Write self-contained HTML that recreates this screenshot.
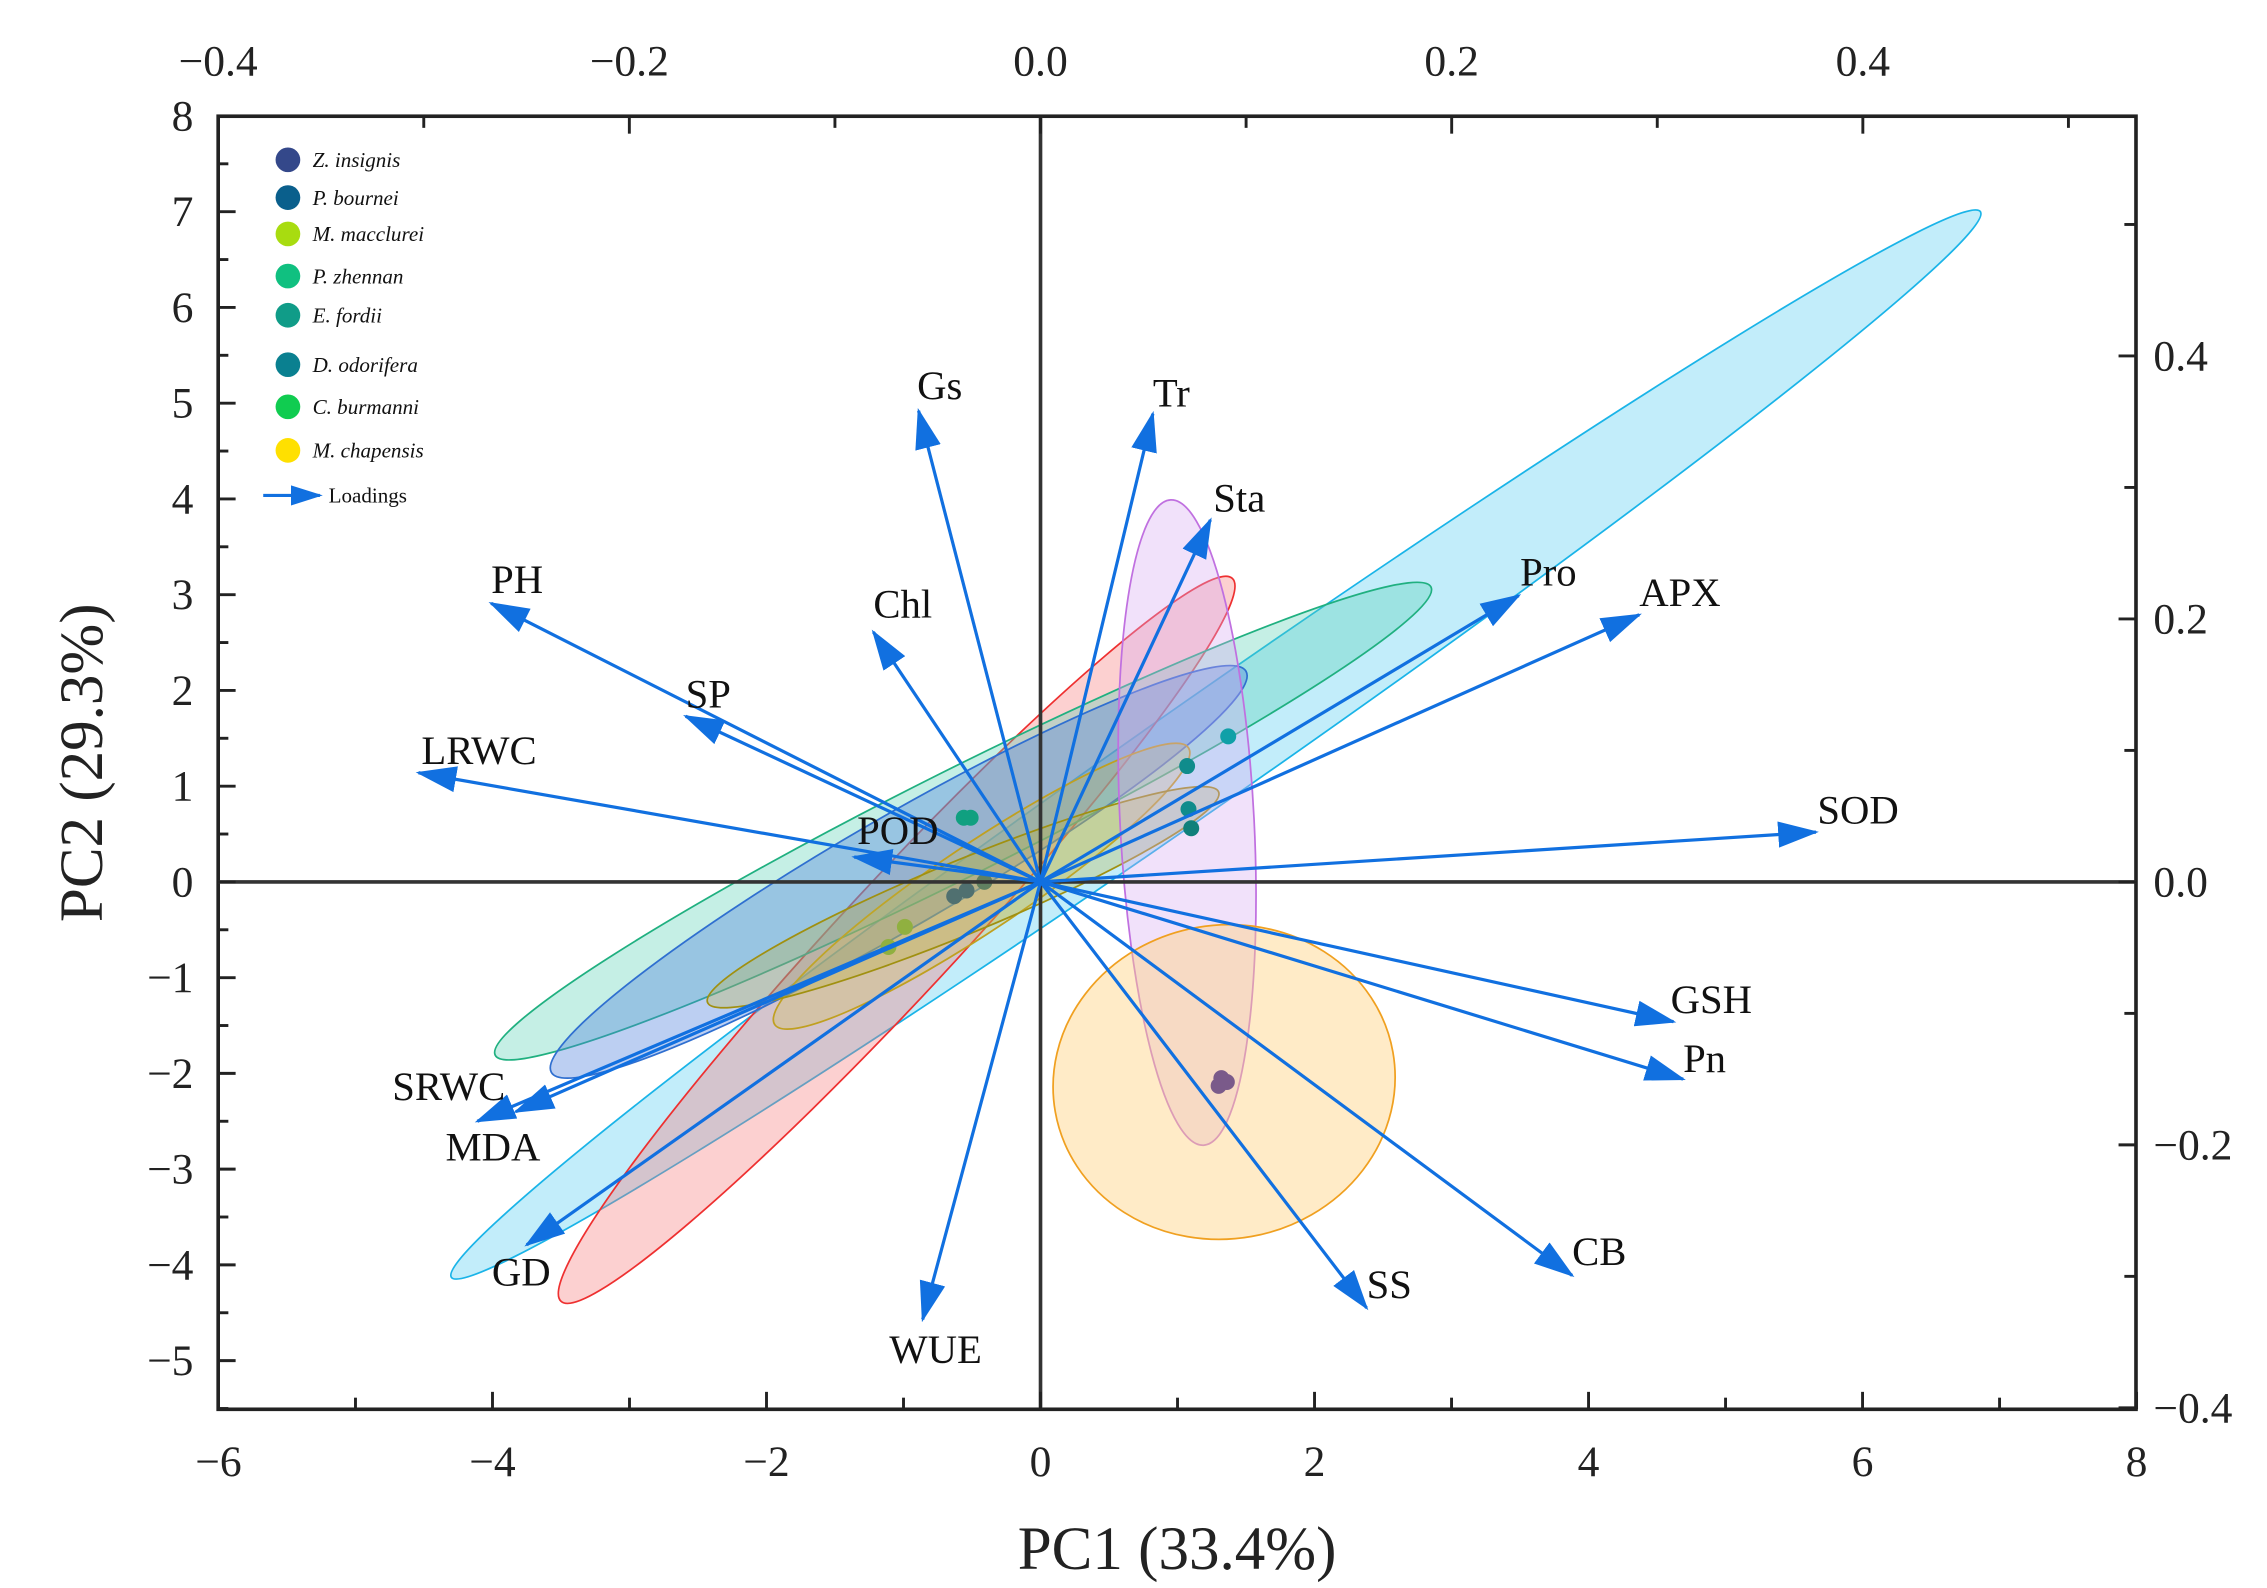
<!DOCTYPE html>
<html><head><meta charset="utf-8"><style>
html,body{margin:0;padding:0;background:#fff;}
svg{display:block;font-family:"Liberation Serif",serif;}
</style></head><body>
<svg id="chart" xmlns="http://www.w3.org/2000/svg" width="2267" height="1588" viewBox="0 0 1560 1093">
<defs>
<marker id="ah" markerWidth="28" markerHeight="20" refX="26" refY="10" orient="auto" markerUnits="userSpaceOnUse"><path d="M0,1 L28,10 L0,19 z" fill="#1170e0"/></marker>
<marker id="ahs" markerWidth="22" markerHeight="16" refX="20" refY="8" orient="auto" markerUnits="userSpaceOnUse"><path d="M0,1 L22,8 L0,15 z" fill="#1170e0"/></marker>
</defs>
<g id="ell"></g>
<g id="pts"></g>
<g id="axes"></g>
<g id="arrows"></g>
<g id="legend"></g>
</svg>
<script>
// ---- data ----
const loadNames = ["Gs","Tr","Sta","Pro","APX","SOD","GSH","Pn","CB","SS","WUE","GD","MDA","SRWC","LRWC","PH","SP","Chl","POD"];
const loadX = [-0.89,0.82,1.24,3.49,4.37,5.66,4.62,4.69,3.88,2.38,-0.86,-3.75,-4.11,-3.83,-4.54,-4.01,-2.59,-1.22,-1.36];
const loadY = [4.92,4.89,3.78,2.99,2.79,0.52,-1.46,-2.06,-4.11,-4.45,-4.57,-3.79,-2.50,-2.40,1.14,2.91,1.73,2.61,0.26];
const labelDX = [-1,0,2,1,0,1,-2,0,0,0,-23,-24,-22,-85,2,0,0,0,2];
const labelDY = [-8,-5,-6,-7,-6,-6,-6,-5,-7,-7,30,28,27,-8,-6,-7,-6,-10,-9];
const ellX1 = [-4.3,-3.5,-3.98,-3.57,-1.94,-2.43,0.95];
const ellY1 = [-4.13,-4.38,-1.81,-1.99,-1.49,-1.26,3.99];
const ellX2 = [6.86,1.40,2.85,1.50,1.08,1.30,1.19];
const ellY2 = [7.0,3.17,3.08,2.2,1.4,0.94,-2.75];
const ellW = [0.55,0.6,0.55,0.58,0.45,0.38,0.7];
const ellFill = ["rgba(120,215,245,0.45)","rgba(245,120,120,0.35)","rgba(90,210,180,0.35)","rgba(80,130,220,0.38)","rgba(210,190,80,0.3)","rgba(190,180,60,0.3)","rgba(215,170,240,0.35)"];
const ellStroke = ["#1ab4e8","#ee3030","#20b080","#2f6fd0","#c0a020","#a09010","#c070e0"];
const ptX = [1.32,1.36,1.30,1.37,1.07,1.08,1.10,-0.51,-0.56,-0.63,-0.54,-0.41,-0.99,-1.11];
const ptY = [-2.05,-2.09,-2.13,1.52,1.21,0.76,0.56,0.67,0.67,-0.15,-0.09,0.0,-0.47,-0.68];
const ptCol = ["#7a5a8a","#7a5a8a","#7a5a8a","#10a0a8","#108c8c","#108c8c","#10807a","#10a080","#10a080","#507070","#507070","#608060","#90b040","#90b040"];
const legNames = ["Z. insignis","P. bournei","M. macclurei","P. zhennan","E. fordii","D. odorifera","C. burmanni","M. chapensis"];
const legCols = ["#34488a","#0a5f8c","#a8dc10","#10c080","#109c88","#0a8090","#10cc50","#ffe000"];
const xTicks = [-6,-4,-2,0,2,4,6,8];
const yTicks = [-5,-4,-3,-2,-1,0,1,2,3,4,5,6,7,8];
const topTicks = [-0.4,-0.2,0.0,0.2,0.4];
const rightTicks = [-0.4,-0.2,0.0,0.2,0.4];
// ---- scales ----
const L=150,R=1470,T=80,B=970;
const sx=v=>716+v*94.3;
const sy=v=>607-v*65.9;
const tx=v=>716+v*(1282-716)/0.4;
const ty=v=>607-v*(607-245)/0.4;
const NS="http://www.w3.org/2000/svg";
function mk(tag,parent,attrs){const e=document.createElementNS(NS,tag);for(const k in attrs)e.setAttribute(k,attrs[k]);document.getElementById(parent).appendChild(e);return e;}
function fmt(v){const s=Math.abs(v).toFixed(1);return (v<0?"\u2212":"")+s;}
for(let i=0;i<ellX1.length;i++){
  const x1=sx(ellX1[i]),y1=sy(ellY1[i]),x2=sx(ellX2[i]),y2=sy(ellY2[i]);
  const cx=(x1+x2)/2,cy=(y1+y2)/2,rx=Math.hypot(x2-x1,y2-y1)/2,ang=Math.atan2(y2-y1,x2-x1)*180/Math.PI;
  const e=mk("ellipse","ell",{cx:cx,cy:cy,rx:rx,ry:ellW[i]*65.9,transform:`rotate(${ang} ${cx} ${cy})`,fill:ellFill[i],stroke:ellStroke[i],"stroke-width":1.2});
  
  
}
{const cx=sx(1.34),cy=sy(-2.09);
const e=mk("ellipse","ell",{cx:cx,cy:cy,rx:118,ry:108,transform:`rotate(-10 ${cx} ${cy})`,fill:"rgba(255,210,130,0.45)",stroke:"#f0a020","stroke-width":1.2});

}
for(let i=0;i<ptX.length;i++){
  const c=mk("circle","pts",{cx:sx(ptX[i]),cy:sy(ptY[i]),r:5.5,fill:ptCol[i]});
  
  
}
const ax="axes";
mk("rect",ax,{x:L,y:T,width:R-L,height:B-T,fill:"none",stroke:"#222","stroke-width":2.5});
mk("line",ax,{x1:L,y1:sy(0),x2:R,y2:sy(0),stroke:"#333","stroke-width":2.5});
mk("line",ax,{x1:sx(0),y1:T,x2:sx(0),y2:B,stroke:"#333","stroke-width":2.5});
for(let v=-6;v<=8;v++){const x=sx(v);const len=v%2===0?12:8;
  mk("line",ax,{x1:x,y1:B,x2:x,y2:B-len,stroke:"#222","stroke-width":2});}
for(let v=-5.5;v<=8;v+=0.5){const y=sy(v);const len=Number.isInteger(v)?12:7;
  mk("line",ax,{x1:L,y1:y,x2:L+len,y2:y,stroke:"#222","stroke-width":2});}
for(let v=-0.4;v<=0.52;v+=0.1){const x=tx(v);const len=Math.abs(Math.round(v*10))%2===0?12:8;
  mk("line",ax,{x1:x,y1:T,x2:x,y2:T+len,stroke:"#222","stroke-width":2});}
for(let v=-0.4;v<=0.55;v+=0.1){const y=ty(v);const len=Math.abs(Math.round(v*10))%2===0?12:8;
  mk("line",ax,{x1:R,y1:y,x2:R-len,y2:y,stroke:"#222","stroke-width":2});}
xTicks.forEach(v=>{const t=mk("text",ax,{x:sx(v),y:1016,"font-size":30,"text-anchor":"middle",fill:"#222"});t.textContent=v<0?"\u2212"+(-v):v;
  });
yTicks.forEach(v=>{const t=mk("text",ax,{x:133,y:sy(v)+10,"font-size":30,"text-anchor":"end",fill:"#222"});t.textContent=v<0?"\u2212"+(-v):v;
  });
topTicks.forEach(v=>{const t=mk("text",ax,{x:tx(v),y:52,"font-size":30,"text-anchor":"middle",fill:"#222"});t.textContent=fmt(v);
  });
rightTicks.forEach(v=>{const t=mk("text",ax,{x:1482,y:ty(v)+10,"font-size":30,"text-anchor":"start",fill:"#222"});t.textContent=fmt(v);
  });
{const t=mk("text",ax,{x:810,y:1080,"font-size":42,"text-anchor":"middle",fill:"#222"});t.textContent="PC1 (33.4%)";
}
{const t=mk("text",ax,{x:70,y:525,"font-size":42,"text-anchor":"middle",fill:"#222",transform:"rotate(-90 70 525)"});t.textContent="PC2 (29.3%)";
}
for(let i=0;i<loadNames.length;i++){
  const l=mk("line","arrows",{x1:sx(0),y1:sy(0),x2:sx(loadX[i]),y2:sy(loadY[i]),stroke:"#1170e0","stroke-width":2.2,"marker-end":"url(#ah)"});
  
  
  const t=mk("text","arrows",{x:sx(loadX[i])+labelDX[i],y:sy(loadY[i])+labelDY[i],"font-size":28,"text-anchor":"start",fill:"#111"});
  t.textContent=loadNames[i];
  
  
}
const legY=[110,136,161,190,217,251,280,310];
legNames.forEach((n,i)=>{
  const c=mk("circle","legend",{cx:198,cy:legY[i],r:8.5,fill:legCols[i]});
  
  
  const t=mk("text","legend",{x:215,y:legY[i]+5,"font-size":14.5,"font-style":"italic",fill:"#111"});t.textContent=n;
  
  
});
{const l=mk("line","legend",{x1:181,y1:341,x2:220,y2:341,stroke:"#1170e0","stroke-width":2.2,"marker-end":"url(#ahs)"});

const t=mk("text","legend",{x:226,y:346,"font-size":14.5,fill:"#111"});t.textContent="Loadings";
}
</script>
</body></html>
